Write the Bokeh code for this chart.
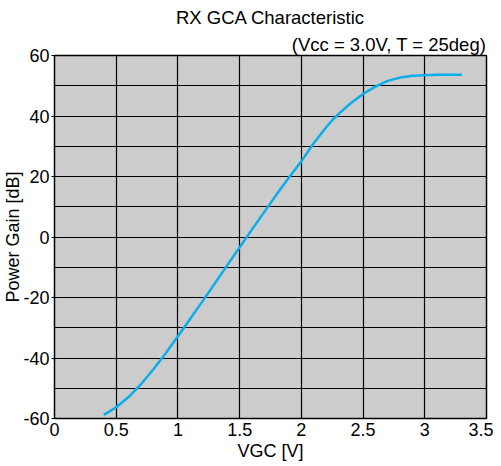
from bokeh.plotting import figure
from bokeh.models import Range1d, SingleIntervalTicker, FixedTicker, Title, PrintfTickFormatter
from bokeh.embed import file_html
from bokeh.resources import INLINE

vgc = [0.4, 0.5, 0.6, 0.7, 0.8, 0.9, 1.0, 1.1, 1.2, 1.3, 1.4, 1.5, 1.6, 1.7, 1.8, 1.9,
       2.0, 2.1, 2.2, 2.25, 2.3, 2.4, 2.5, 2.6, 2.7, 2.8, 2.9, 3.0, 3.1, 3.2, 3.3]
gain = [-58.8, -56.3, -52.9, -48.7, -43.8, -38.5, -32.8, -27.0, -21.2, -15.3, -9.3, -3.4,
        2.5, 8.3, 14.1, 19.7, 25.0, 31.0, 36.2, 38.6, 40.6, 44.2, 47.3, 49.7, 51.6, 52.7,
        53.3, 53.5, 53.6, 53.6, 53.6]
x_ticks = [0, 0.5, 1.0, 1.5, 2.0, 2.5, 3.0, 3.5]

FONT = "Liberation Sans"

p = figure(frame_width=432, frame_height=363, output_backend="svg", toolbar_location=None,
           x_range=Range1d(0, 3.5), y_range=Range1d(-60, 60),
           min_border_left=46, min_border_right=7, min_border_top=0, min_border_bottom=0)
p.background_fill_color = "#cccccc"
p.border_fill_color = "white"
p.outline_line_color = "black"
p.outline_line_width = 1.5

p.title.text = "RX GCA Characteristic"
p.title.align = "center"
p.title.text_font = FONT
p.title.text_font_size = "18.5px"
p.title.text_font_style = "normal"
p.title.text_color = "black"
p.title.standoff = 0
p.title.padding = 4
p.add_layout(Title(text="(Vcc = 3.0V, T = 25deg)", align="right", text_font=FONT,
                   text_font_size="18.5px", text_font_style="normal", text_color="black",
                   standoff=1), "above")

p.xaxis.ticker = FixedTicker(ticks=x_ticks)
p.yaxis.ticker = SingleIntervalTicker(interval=20, num_minor_ticks=2)
p.yaxis.formatter = PrintfTickFormatter(format="%d")
for ax in (p.xaxis, p.yaxis):
    ax.major_label_text_font = FONT
    ax.major_label_text_font_size = "18px"
    ax.major_label_text_color = "black"
    ax.axis_label_text_font = FONT
    ax.axis_label_text_font_size = "18px"
    ax.axis_label_text_font_style = "normal"
    ax.axis_label_text_color = "black"
    ax.axis_line_color = "black"
    ax.minor_tick_line_color = None
    ax.minor_tick_out = 0
    ax.minor_tick_in = 0
p.xaxis.major_tick_line_color = None
p.xaxis.major_tick_out = 0
p.xaxis.major_tick_in = 0
p.yaxis.major_tick_line_color = "black"
p.yaxis.major_tick_out = 3
p.yaxis.major_tick_in = 0
p.xaxis.axis_label = "VGC [V]"
p.yaxis.axis_label = "Power Gain [dB]"
p.xaxis.major_label_standoff = 4
p.xaxis.axis_label_standoff = 2
p.yaxis.major_label_standoff = 2
p.yaxis.axis_label_standoff = -3

p.grid.grid_line_color = "black"
p.grid.grid_line_alpha = 1
p.grid.grid_line_width = 1.2
p.ygrid.minor_grid_line_color = "black"
p.ygrid.minor_grid_line_width = 1.2

p.line(vgc, gain, line_color="#0aaeea", line_width=2.5)

open("out.html", "w").write(file_html(p, INLINE))
